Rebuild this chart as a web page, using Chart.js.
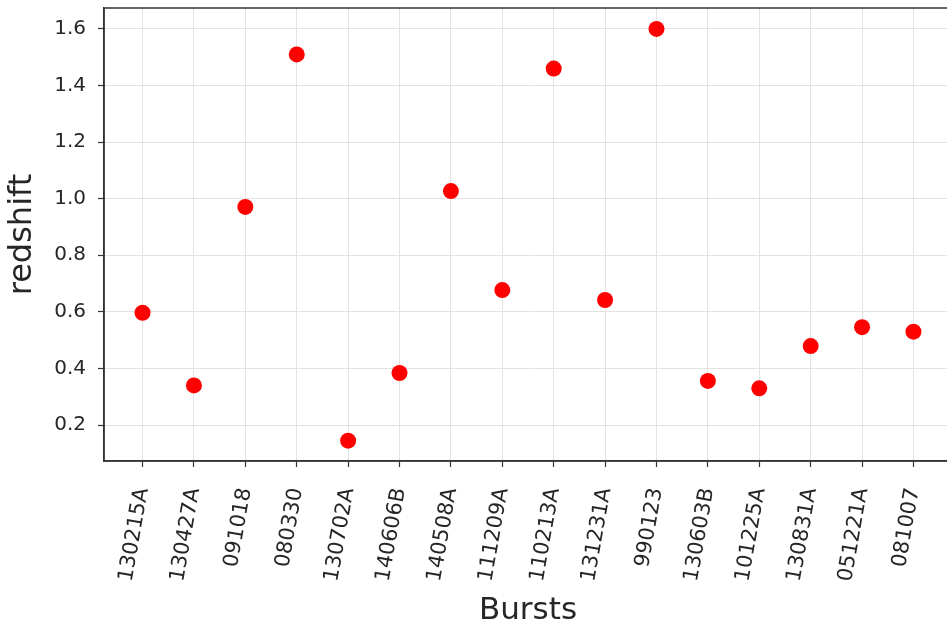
<!DOCTYPE html>
<html>
<head>
<meta charset="utf-8">
<title>Redshift by burst</title>
<script src="https://cdn.jsdelivr.net/npm/chart.js@4.4.1/dist/chart.umd.min.js"></script>
<style>
  html, body { margin: 0; padding: 0; background: #fff; }
  #wrap { width: 947px; height: 626px; overflow: hidden; }
  #redshiftChart { display: block; }
</style>
</head>
<body>
<div id="wrap">
  <canvas id="redshiftChart" width="960" height="626"></canvas>
</div>
<script>
// Burst names along the x axis and their measured redshifts
const bursts = ['130215A', '130427A', '091018', '080330', '130702A', '140606B', '140508A', '111209A',
                '110213A', '131231A', '990123', '130603B', '101225A', '130831A', '051221A', '081007'];
const redshifts = [0.597, 0.34, 0.971, 1.51, 0.145, 0.384, 1.027, 0.677,
                   1.46, 0.642, 1.60, 0.356, 0.33, 0.479, 0.546, 0.530];
const yTicks = [0.2, 0.4, 0.6, 0.8, 1.0, 1.2, 1.4, 1.6];

const axisColor = '#333333';
const gridColor = '#e3e3e3';
const textColor = '#262626';
const fontFamily = '"DejaVu Sans", sans-serif';

// Chart.js only draws the border on the axis side, so close the box here
const frame = {
    id: 'frame',
    afterDraw(chart) {
        const { ctx, chartArea } = chart;
        ctx.save();
        ctx.strokeStyle = axisColor;
        ctx.lineWidth = 1.5;
        ctx.strokeRect(chartArea.left, chartArea.top, chartArea.right - chartArea.left, chartArea.bottom - chartArea.top);
        ctx.restore();
    }
};

const ctx = document.getElementById('redshiftChart').getContext('2d');
const redshiftChart = new Chart(ctx, {
    type: 'scatter',
    data: {
        datasets: [{
            data: redshifts.map((z, i) => ({ x: i, y: z })),
            backgroundColor: '#ff0000',
            borderWidth: 0,
            pointRadius: 8,
            pointHoverRadius: 8
        }]
    },
    options: {
        responsive: false,
        animation: false,
        devicePixelRatio: 1,
        layout: { padding: { top: 5, right: 8, bottom: 0, left: 0 } },
        plugins: {
            legend: { display: false },
            tooltip: { enabled: false }
        },
        scales: {
            x: {
                type: 'linear',
                min: -0.75,
                max: bursts.length - 0.25,
                afterBuildTicks: (axis) => { axis.ticks = bursts.map((_, i) => ({ value: i })); },
                afterFit: (axis) => { axis.height = 165; },
                grid: { color: gridColor, lineWidth: 1, tickColor: axisColor, tickLength: 6, tickWidth: 1.2 },
                border: { color: axisColor, width: 1.5 },
                ticks: {
                    autoSkip: false,
                    minRotation: 80,
                    maxRotation: 80,
                    padding: 19,
                    color: textColor,
                    font: { family: fontFamily, size: 21 },
                    callback: (value) => bursts[value]
                },
                title: {
                    display: true,
                    text: 'Bursts',
                    color: textColor,
                    padding: { top: 0, bottom: 0 },
                    font: { family: fontFamily, size: 31, lineHeight: 1 }
                }
            },
            y: {
                min: 0.073,
                max: 1.674,
                afterBuildTicks: (axis) => { axis.ticks = yTicks.map(v => ({ value: v })); },
                afterFit: (axis) => {
                    axis.width = 104;
                    axis.paddingTop = 0;
                    axis.paddingBottom = 0;
                },
                grid: { color: gridColor, lineWidth: 1, tickColor: axisColor, tickLength: 6, tickWidth: 1.2 },
                border: { color: axisColor, width: 1.5 },
                ticks: {
                    padding: 12,
                    color: textColor,
                    font: { family: fontFamily, size: 20 },
                    callback: (value) => value.toFixed(1)
                },
                title: {
                    display: true,
                    text: 'redshift',
                    color: textColor,
                    padding: { top: 3, bottom: 0 },
                    font: { family: fontFamily, size: 32 }
                }
            }
        }
    },
    plugins: [frame]
});
</script>
</body>
</html>
